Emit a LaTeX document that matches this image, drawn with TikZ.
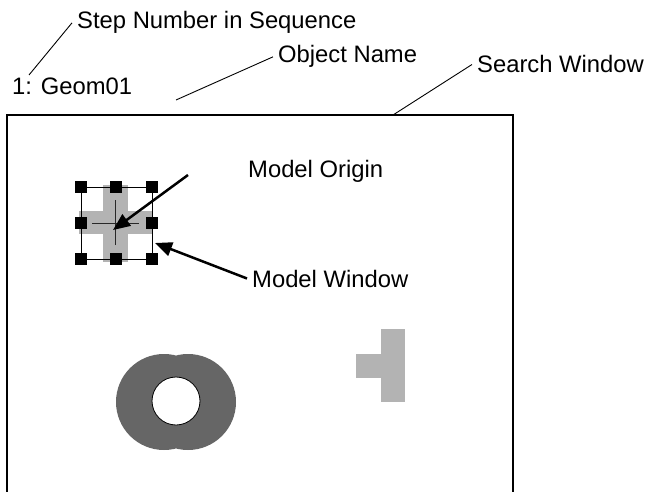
\documentclass[tikz,border=0pt]{standalone}
\usepackage{fontspec}
\setmainfont{Liberation Sans}
\usetikzlibrary{arrows.meta,positioning}
\definecolor{partgray}{RGB}{179,179,179}
\definecolor{blobgray}{RGB}{102,102,102}
\definecolor{hairgray}{RGB}{40,40,40}
\newcommand{\grabhandle}[2]{%
  \fill[black] ({#1-6},{#2-6}) rectangle ({#1+6},{#2+6});
}
\newcommand{\calloutlabel}[3]{%
  \node[lbl] (#1) at (#2) {#3};
}

\begin{document}
\begin{tikzpicture}[x=1pt,y=-1pt,font=\fontsize{23.8}{28}\selectfont,
    lbl/.style={anchor=base west,inner xsep=5pt,inner ysep=0pt},
    leader/.style={line width=0.9pt},
    pointer/.style={line width=2.5pt,-{Triangle[length=17pt,width=14pt]}}]
    \useasboundingbox (0,0) rectangle (648,492);
    % search window, open at the bottom
    \draw[line width=1.3pt] (7,500) -- (7,115) -- (513,115) -- (513,500);
    % model: gray cross
    \fill[partgray] (103,185) rectangle (128,262);
    \fill[partgray] (79,211) rectangle (153,234);
    % model window and its handles
    \draw[line width=0.8pt] (81,187) rectangle (152,259);
    \foreach \hx/\hy in {81/187,116/187,152/187,81/223,152/223,81/259,116/259,152/259}
      \grabhandle{\hx}{\hy}
    % model origin crosshair
    \coordinate (org) at (115,223);
    \draw[hairgray,line width=0.8pt] ([xshift=-23pt]org) -- ([xshift=24pt]org);
    \draw[hairgray,line width=0.8pt] ([yshift=-22pt]org) -- ([yshift=23pt]org);
    % other objects in the window
    \fill[blobgray] (164,402) circle (48) (188,402) circle (48);
    \filldraw[fill=white,draw=black,line width=0.8pt] (176,401) circle (24);
    \fill[partgray] (381,329) rectangle (405,402);
    \fill[partgray] (356,354) rectangle (381,378);
    % labels
    \calloutlabel{step}{72,29}{Step Number in Sequence}
    \calloutlabel{geom}{7,95}{1: Geom01}
    \calloutlabel{obj}{273,63}{Object Name}
    \calloutlabel{srch}{472,73}{Search Window}
    \calloutlabel{morg}{243,178}{Model Origin}
    \calloutlabel{mwin}{247,287}{Model Window}
    % leaders and pointers
    \coordinate (stepTip) at (29,75);
    \coordinate (objTip) at (176,100);
    \coordinate (srchTip) at (393,115);
    \coordinate (orgTail) at (188,175);
    \coordinate (orgTip) at (113,230);
    \coordinate (winTip) at (155,243);
    \draw[leader] (step.west) -- (stepTip);
    \draw[leader] (obj.west) -- (objTip);
    \draw[leader] (srch.west) -- (srchTip);
    \draw[pointer] (orgTail) -- (orgTip);
    \draw[pointer] (mwin.west) -- (winTip);
  \end{tikzpicture}
\end{document}
